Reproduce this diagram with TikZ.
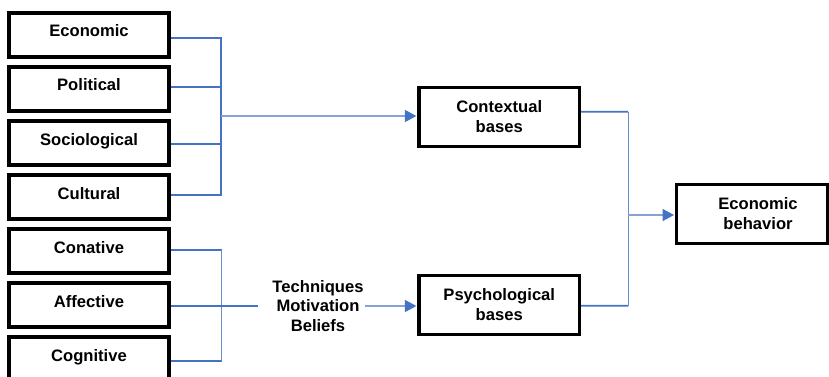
\documentclass[tikz,border=0pt]{standalone}
\usepackage{fontspec}
\setmainfont{Liberation Sans}
\usetikzlibrary{arrows.meta}
\definecolor{linkblue}{HTML}{4472C4}
\definecolor{paleblue}{HTML}{86A3D8}
\begin{document}
\begin{tikzpicture}[x=1pt,y=-1pt,
  every node/.style={font=\fontsize{16.6}{19.5}\selectfont\bfseries, inner sep=1pt},
  factor/.style={draw=black, line width=3.2pt, minimum width=160pt, minimum height=44pt,
    inner sep=0pt, text height=12pt, text depth=8pt},
  basebox/.style={draw=black, line width=3.2pt, minimum width=160.5pt, minimum height=59pt,
    inner sep=0pt, align=center},
  conn/.style={draw=linkblue, line width=1.6pt},
  thinconn/.style={draw=linkblue!80, line width=1pt},
  arr/.style={draw=paleblue, line width=1.4pt,
    -{Triangle[length=11.5pt,width=12pt,color=linkblue]}, shorten >=1pt}]
\useasboundingbox (0,0) rectangle (829,377);

% factor boxes on the left
\node[factor] (econ) at (89,35)  {Economic};
\node[factor] (pol)  at (89,89)  {Political};
\node[factor] (soc)  at (89,143) {Sociological};
\node[factor] (cult) at (89,197) {Cultural};
\node[factor] (con)  at (89,251) {Conative};
\node[factor] (aff)  at (89,305) {Affective};
\node[factor] (cog)  at (89,359) {Cognitive};

% middle and right boxes
\node[basebox] (ctx) at (499.25,116.75) {Contextual\\bases};
\node[basebox] (psy) at (499.25,304.75) {Psychological\\bases};
\node[draw=black, line width=3.2pt, minimum width=151.3pt, minimum height=58.6pt,
  inner sep=0pt] (behav) at (752.3,214) {};
\node[align=center] (behavtxt) at (758,213.5) {Economic\\behavior};

% label between the lower group and the psychological bases
\node[align=center] (tmb) at (318,306) {Techniques\\Motivation\\Beliefs};

% junction points
\coordinate (tb) at (221,116);
\coordinate (lb) at (258,306);
\coordinate (rb) at (628,215);

% upper group bracket
\draw[conn] ([yshift=-3pt]econ.east) -- (221,38) -- (221,195) -- ([yshift=2pt]cult.east);
\draw[conn] ([yshift=2pt]pol.east) -- (221,87);
\draw[conn] ([yshift=-1pt]soc.east) -- (221,144);
\draw[arr] (tb) -- (tb -| ctx.west);

% lower group bracket
\draw[conn] ([yshift=1pt]con.east) -- (221.5,250);
\draw[conn] ([yshift=-2pt]cog.east) -- (221.5,361);
\draw[thinconn] (221.5,250) -- (221.5,361);
\draw[conn] ([yshift=-1pt]aff.east) -- (lb);
\draw[arr] (tmb.east) -- (tmb.east -| psy.west);

% merge into economic behavior
\draw[conn] ([yshift=5pt]ctx.east) -- (628,111.7);
\draw[conn] ([yshift=-1pt]psy.east) -- (628,305.7);
\draw[thinconn] (628,111.7) -- (628,305.7);
\draw[arr] (rb) -- (rb -| behav.west);
\end{tikzpicture}
\end{document}
